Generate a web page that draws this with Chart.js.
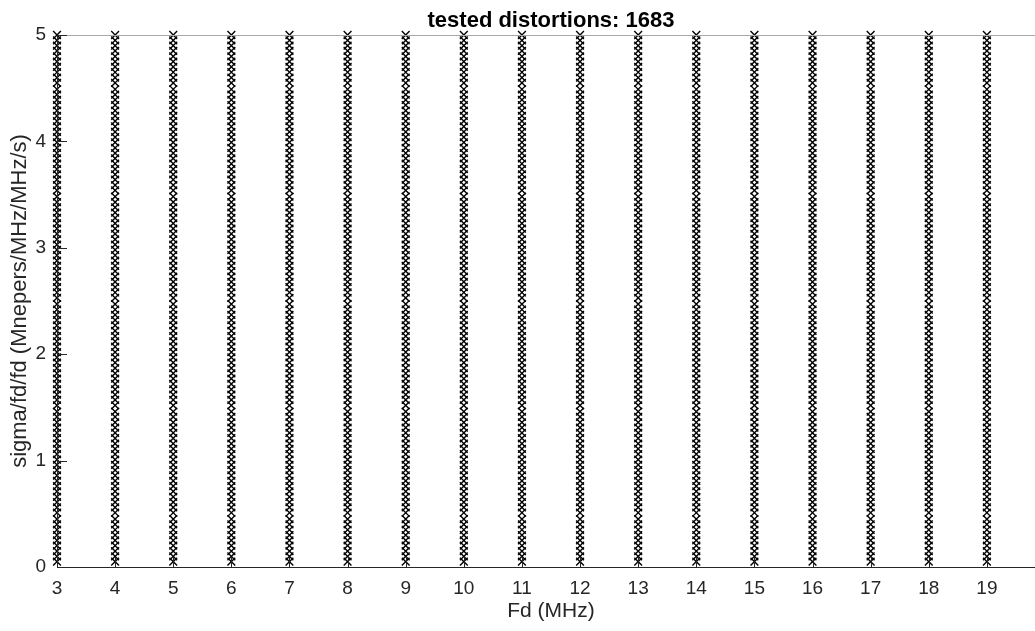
<!DOCTYPE html>
<html><head><meta charset="utf-8">
<script src="https://cdn.jsdelivr.net/npm/chart.js@4.4.1/dist/chart.umd.min.js"></script>
<style>
html,body{margin:0;padding:0;background:#fff;overflow:hidden;width:1035px;height:631px}
#wrap{position:absolute;left:0;top:0;width:1100px;height:631px}
</style>
</head><body><div id="wrap"><canvas id="c" width="1100" height="631"></canvas></div>
<script>
const chartTitle = 'tested distortions: 1683';
const xAxisTitle = 'Fd (MHz)';
const yAxisTitle = 'sigma/fd/fd (Mnepers/MHz/MHz/s)';
const fdValues = [3,4,5,6,7,8,9,10,11,12,13,14,15,16,17,18,19];
const sigmaValues = [0.05,0.10,0.15,0.20,0.25,0.30,0.35,0.40,0.45,0.51,
  0.56,0.61,0.66,0.71,0.76,0.81,0.86,0.91,0.96,1.01,
  1.06,1.11,1.16,1.21,1.26,1.31,1.36,1.41,1.46,1.52,
  1.57,1.62,1.67,1.72,1.77,1.82,1.87,1.92,1.97,2.02,
  2.07,2.12,2.17,2.22,2.27,2.32,2.37,2.42,2.47,2.53,
  2.58,2.63,2.68,2.73,2.78,2.83,2.88,2.93,2.98,3.03,
  3.08,3.13,3.18,3.23,3.28,3.33,3.38,3.43,3.48,3.54,
  3.59,3.64,3.69,3.74,3.79,3.84,3.89,3.94,3.99,4.04,
  4.09,4.14,4.19,4.24,4.29,4.34,4.39,4.44,4.49,4.55,
  4.60,4.65,4.70,4.75,4.80,4.85,4.90,4.95,5.00];
const xTickValues = [3,4,5,6,7,8,9,10,11,12,13,14,15,16,17,18,19,20];
const yTickValues = [0,1,2,3,4,5];

const points = [];
for (const fd of fdValues) for (const s of sigmaValues) points.push({x: fd, y: s});

const FONT = "'Liberation Sans', Arial, Helvetica, sans-serif";
const TXT = '#262626';

const boxPlugin = {
  id: 'box',
  afterDraw(chart) {
    const {ctx, chartArea: a, scales: {x, y}} = chart;
    ctx.save();
    ctx.lineWidth = 1;
    ctx.strokeStyle = '#a8a8a8';
    ctx.beginPath(); ctx.moveTo(a.left, a.top + 0.5); ctx.lineTo(a.right, a.top + 0.5); ctx.stroke();
    ctx.strokeStyle = '#9a9a9a';
    ctx.beginPath(); ctx.moveTo(a.right - 0.5, a.top); ctx.lineTo(a.right - 0.5, a.bottom); ctx.stroke();
    for (const v of yTickValues) {
      const py = Math.round(y.getPixelForValue(v)) + 0.5;
      ctx.beginPath(); ctx.moveTo(a.right - 10, py); ctx.lineTo(a.right, py); ctx.stroke();
    }
    ctx.strokeStyle = TXT;
    ctx.beginPath(); ctx.moveTo(a.left, a.bottom + 0.5); ctx.lineTo(a.right, a.bottom + 0.5); ctx.stroke();
    ctx.beginPath(); ctx.moveTo(a.left + 0.5, a.top); ctx.lineTo(a.left + 0.5, a.bottom + 1); ctx.stroke();
    for (const v of xTickValues) {
      const px = Math.round(x.getPixelForValue(v)) + 0.5;
      ctx.beginPath(); ctx.moveTo(px, a.bottom); ctx.lineTo(px, a.bottom - 10); ctx.stroke();
    }
    for (const v of yTickValues) {
      const py = Math.round(y.getPixelForValue(v)) + 0.5;
      ctx.beginPath(); ctx.moveTo(a.left, py); ctx.lineTo(a.left + 10, py); ctx.stroke();
    }
    ctx.fillStyle = '#000';
    ctx.font = 'bold 22px ' + FONT;
    ctx.textAlign = 'center';
    ctx.textBaseline = 'alphabetic';
    ctx.fillText(chartTitle, (a.left + a.right) / 2, 27);
    ctx.restore();
  }
};

new Chart(document.getElementById('c'), {
  type: 'scatter',
  data: {
    datasets: [{
      data: points,
      pointStyle: 'crossRot',
      pointRadius: 5.5,
      pointHoverRadius: 5.5,
      borderColor: '#000',
      backgroundColor: '#000',
      borderWidth: 1.4,
      showLine: false,
      clip: false
    }]
  },
  options: {
    responsive: false,
    animation: false,
    devicePixelRatio: 1,
    layout: {padding: {top: 35, right: 55, left: 0, bottom: 0}, autoPadding: false},
    plugins: {legend: {display: false}, tooltip: {enabled: false}, title: {display: false}},
    scales: {
      x: {
        type: 'linear', min: 3, max: 20,
        afterBuildTicks: s => { s.ticks = xTickValues.map(v => ({value: v})); },
        afterFit: s => { s.height = 64; },
        grid: {display: false, drawTicks: false},
        border: {display: false},
        ticks: {color: TXT, font: {family: FONT, size: 19}, padding: 10, maxRotation: 0, autoSkip: false},
        title: {display: true, text: xAxisTitle, color: TXT, font: {family: FONT, size: 21}, padding: {top: 0, bottom: 7}}
      },
      y: {
        type: 'linear', min: 0, max: 5,
        afterBuildTicks: s => { s.ticks = yTickValues.map(v => ({value: v})); },
        afterFit: s => { s.width = 57; },
        grid: {display: false, drawTicks: false},
        border: {display: false},
        ticks: {color: TXT, font: {family: FONT, size: 19}, padding: 11},
        title: {display: true, text: yAxisTitle, color: TXT, font: {family: FONT, size: 22}, padding: {top: 7, bottom: 0}}
      }
    }
  },
  plugins: [boxPlugin]
});
</script>
</body></html>
